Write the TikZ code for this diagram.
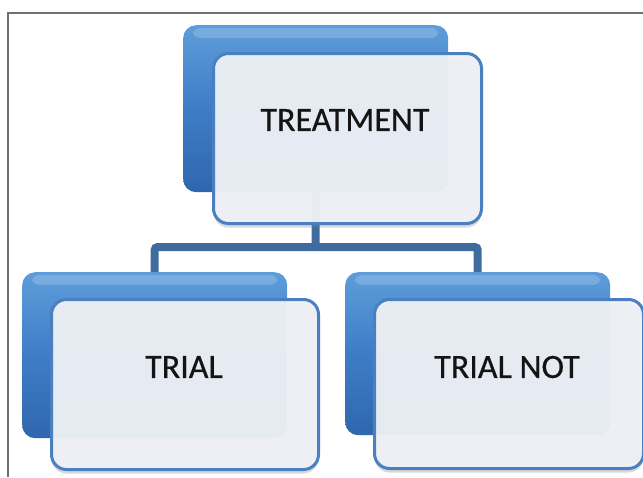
\documentclass[tikz,border=0pt]{standalone}
\usepackage{fontspec}
\setmainfont{Carlito}[FakeBold=0.6]
\usetikzlibrary{shadows}
\definecolor{bluemid}{HTML}{3E7DC6}
\definecolor{bluetop}{HTML}{5E9DDA}
\definecolor{bluebot}{HTML}{2F67AD}
\definecolor{frontfill}{HTML}{EFF1F6}
\definecolor{frontline}{HTML}{4A80C2}
\definecolor{connblue}{HTML}{3F6C9E}
\definecolor{framegray}{HTML}{707070}
\tikzset{
  backbox/.style={rounded corners=13pt, top color=bluetop, bottom color=bluebot, middle color=bluemid,
    minimum width=#1, draw=none, inner sep=0pt, anchor=north west},
  frontbox/.style={rounded corners=15pt, fill=frontfill, fill opacity=0.95, draw=frontline, line width=3pt,
    inner sep=0pt, anchor=north west,
    drop shadow={opacity=0.3, shadow xshift=0pt, shadow yshift=-4pt}},
  lbl/.style={font=\fontsize{34}{34}\selectfont, text=black!92, inner sep=0pt},
  conn/.style={draw=connblue, line width=8pt},
}
\begin{document}
\begin{tikzpicture}[x=1pt,y=-1pt]
\useasboundingbox (0,0) rectangle (643,477);
\fill[white] (0,0) rectangle (643,477);
\draw[framegray, line width=1.2pt] (8,477) -- (8,13) -- (643,13);
% back boxes
\node[backbox=265pt, minimum height=167pt] (tb) at (183,25) {};
\node[backbox=265pt, minimum height=166pt] (lb) at (22,272) {};
\node[backbox=265pt, minimum height=163pt] (rb) at (345,272) {};
% highlights
\foreach \b in {tb,lb,rb}{
  \fill[white, opacity=0.18, rounded corners=7pt] ([xshift=10pt,yshift=-3pt]\b.north west) rectangle ([xshift=-10pt,yshift=-13pt]\b.north east);
}
% connectors
\coordinate (bus) at (315.5,247);
\draw[conn] (tb.south) -- (bus);
\draw[conn, rounded corners=3pt] (lb.north) |- (bus) -| (rb.north);
% front boxes
\node[frontbox, minimum width=268pt, minimum height=170pt] (tf) at (212,52) {};
\node[frontbox, minimum width=267pt, minimum height=170pt] (lf) at (50,298) {};
\node[frontbox, minimum width=269pt, minimum height=169pt] (rf) at (373,298) {};
% labels
\node[lbl] (tt) at (345,120) {TREATMENT};
\node[lbl] (lt) at (184,367) {TRIAL};
\node[lbl] (rt) at (507,367) {TRIAL NOT};
\end{tikzpicture}
\end{document}
